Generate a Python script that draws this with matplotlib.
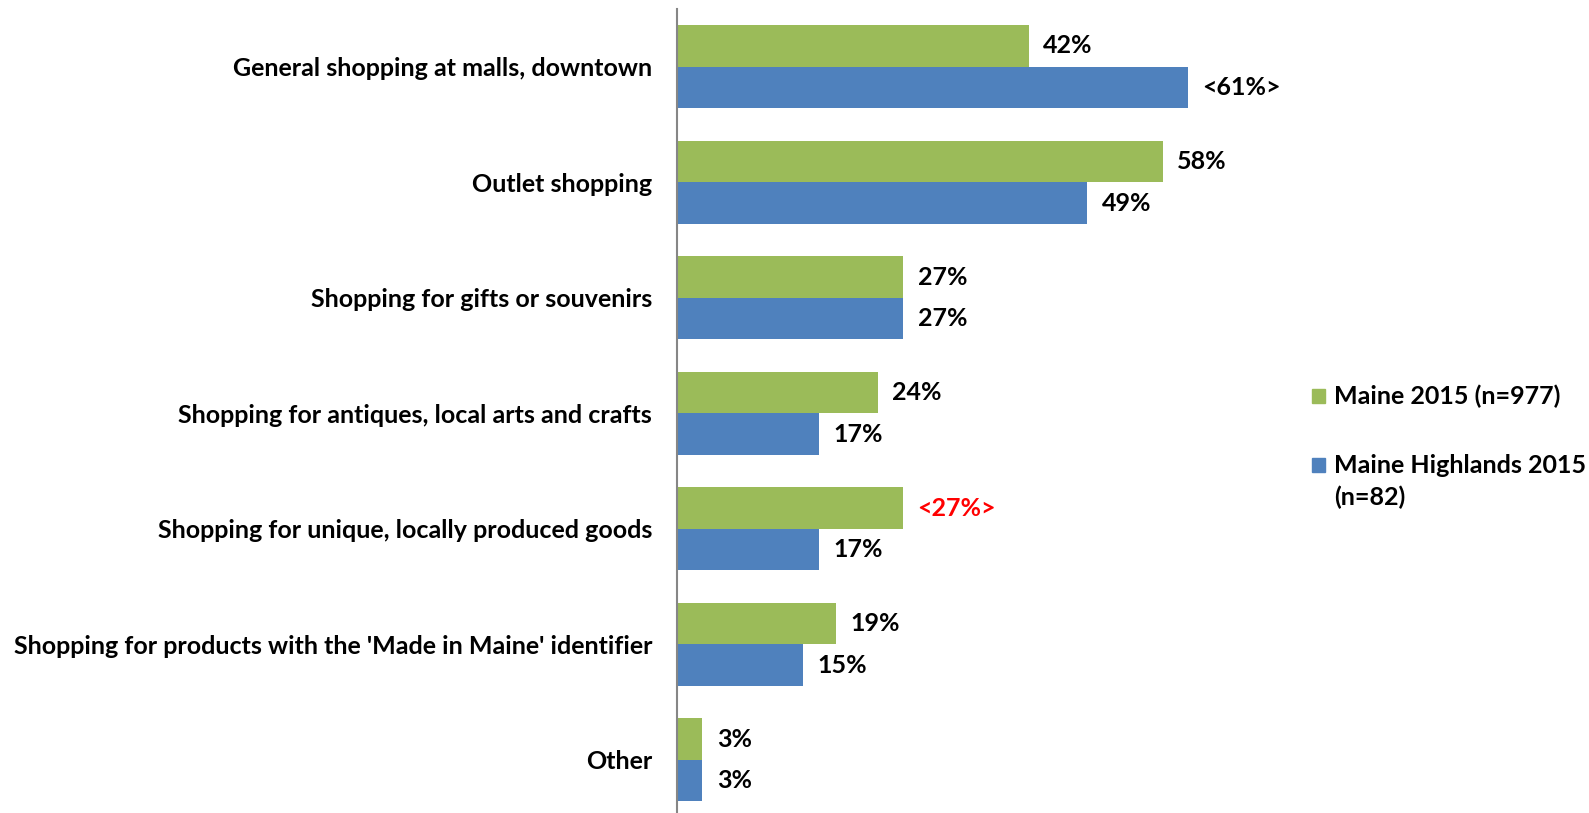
import matplotlib.pyplot as plt
from matplotlib.patches import Rectangle

categories = [
    "General shopping at malls, downtown",
    "Outlet shopping",
    "Shopping for gifts or souvenirs",
    "Shopping for antiques, local arts and crafts",
    "Shopping for unique, locally produced goods",
    "Shopping for products with the 'Made in Maine' identifier",
    "Other",
]
maine = [42, 58, 27, 24, 27, 19, 3]
highlands = [61, 49, 27, 17, 17, 15, 3]
maine_labels = ["42%", "58%", "27%", "24%", "<27%>", "19%", "3%"]
highland_labels = ["<61%>", "49%", "27%", "17%", "17%", "15%", "3%"]
series_names = ["Maine 2015 (n=977)", "Maine Highlands 2015\n(n=82)"]

green = "#9BBB59"
blue = "#4F81BD"
plt.rcParams["font.family"] = ["Lato", "DejaVu Sans"]
fs = 18

fig = plt.figure(figsize=(15.89, 8.13), dpi=100)
W, H = 1589, 813
ax = fig.add_axes([677 / W, 0, 586 / W, 1 - 9 / H])

pos = list(range(len(categories)))
bh = 0.36
ax.barh([p - bh / 2 for p in pos], maine, height=bh, color=green)
ax.barh([p + bh / 2 for p in pos], highlands, height=bh, color=blue)

ax.set_xlim(0, 70)
ax.set_ylim(6.46, -0.5)

for p, v, lab in zip(pos, maine, maine_labels):
    ax.annotate(lab, (v, p - bh / 2), xytext=(10.5, 0), textcoords="offset points",
                va="center", ha="left", fontsize=fs, fontweight="bold",
                color="red" if lab.startswith("<27") else "black")
for p, v, lab in zip(pos, highlands, highland_labels):
    ax.annotate(lab, (v, p + bh / 2), xytext=(10.5, 0), textcoords="offset points",
                va="center", ha="left", fontsize=fs, fontweight="bold")

ax.set_yticks(pos)
ax.set_yticklabels(categories, fontsize=fs, fontweight="bold")
ax.tick_params(axis="y", length=0, pad=18)
ax.set_xticks([])
for side in ["top", "right", "bottom"]:
    ax.spines[side].set_visible(False)
ax.spines["left"].set_color("#868686")
ax.spines["left"].set_linewidth(1.5)

# legend drawn by hand so the square sits beside the first text line
for (y, name, col) in [(396, series_names[0], green), (465, series_names[1], blue)]:
    fig.patches.append(Rectangle((1312 / W, 1 - (y + 7) / H), 13 / W, 14 / H,
                                 transform=fig.transFigure, color=col))
    for i, line in enumerate(name.split("\n")):
        fig.text(1334 / W, 1 - (y + 32.5 * i) / H, line, fontsize=fs,
                 fontweight="bold", va="center", ha="left")

fig.savefig("out.png", dpi=100)
